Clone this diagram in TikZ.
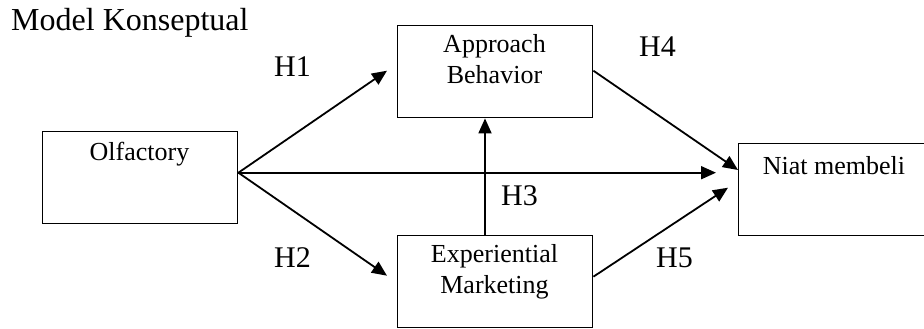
\documentclass[tikz,border=0pt]{standalone}
\usepackage{fontspec}
\setmainfont{Liberation Serif}
\usetikzlibrary{arrows.meta,calc}
\begin{document}
\begin{tikzpicture}[x=1pt,y=-1pt,
  box/.style={draw=black,line width=1.4pt,minimum width=195pt,minimum height=92pt,inner sep=0pt,anchor=north west},
  boxtext/.style={font=\fontsize{26}{31.5}\selectfont,align=center,inner sep=0pt},
  hyp/.style={font=\fontsize{30}{36}\selectfont,inner sep=0pt,anchor=base west},
  conn/.style={line width=1.8pt,-{Triangle[length=15pt,width=13pt]}}]
\useasboundingbox (0,0) rectangle (924,329);
\node[font=\fontsize{32}{38}\selectfont,inner sep=0pt,anchor=base west] (title) at (11,31) {Model Konseptual};
% boxes
\node[box] (olf) at (42,131) {};
\node[box] (appr) at (397,25) {};
\node[box] (expm) at (397,235) {};
\node[box,minimum width=200pt] (niat) at (738,143) {};
% box texts
\node[boxtext,anchor=base] (olft) at (139.5,160) {Olfactory};
\node[boxtext,anchor=base] (apprt1) at (494.5,53) {Approach};
\node[boxtext,anchor=base] (apprt2) at (494.5,84) {Behavior};
\node[boxtext,anchor=base] (expmt1) at (494.5,262) {Experiential};
\node[boxtext,anchor=base] (expmt2) at (494.5,293) {Marketing};
\node[boxtext,anchor=base] (niatt) at (834,174) {Niat membeli};
% connector end points
\coordinate (o) at ($(olf.east)+(0,-5)$);
\coordinate (h1e) at ($(appr.west)+(-10,-1)$);
\coordinate (h2e) at ($(expm.west)+(-10,-6)$);
\coordinate (dire) at ($(niat.west)+(-22,-17)$);
\coordinate (h3s) at ($(expm.north west)+(88,0)$);
\coordinate (h3e) at ($(appr.south west)+(88,0)$);
\coordinate (h4s) at ($(appr.east)+(0,-1)$);
\coordinate (h4e) at ($(niat.north west)+(0,27)$);
\coordinate (h5s) at ($(expm.east)+(0,-5)$);
\coordinate (h5e) at ($(niat.west)+(-10,-2)$);
% connectors
\draw[conn] (o) -- (h1e);
\draw[conn] (o) -- (h2e);
\draw[conn] (o) -- (dire);
\draw[conn] (h3s) -- (h3e);
\draw[conn] (h4s) -- (h4e);
\draw[conn] (h5s) -- (h5e);
% labels
\node[hyp] (lh1) at (274,77) {H1};
\node[hyp] (lh2) at (274,267) {H2};
\node[hyp] (lh3) at (501,205) {H3};
\node[hyp] (lh4) at (639,57) {H4};
\node[hyp] (lh5) at (656,267) {H5};
\end{tikzpicture}
\end{document}
